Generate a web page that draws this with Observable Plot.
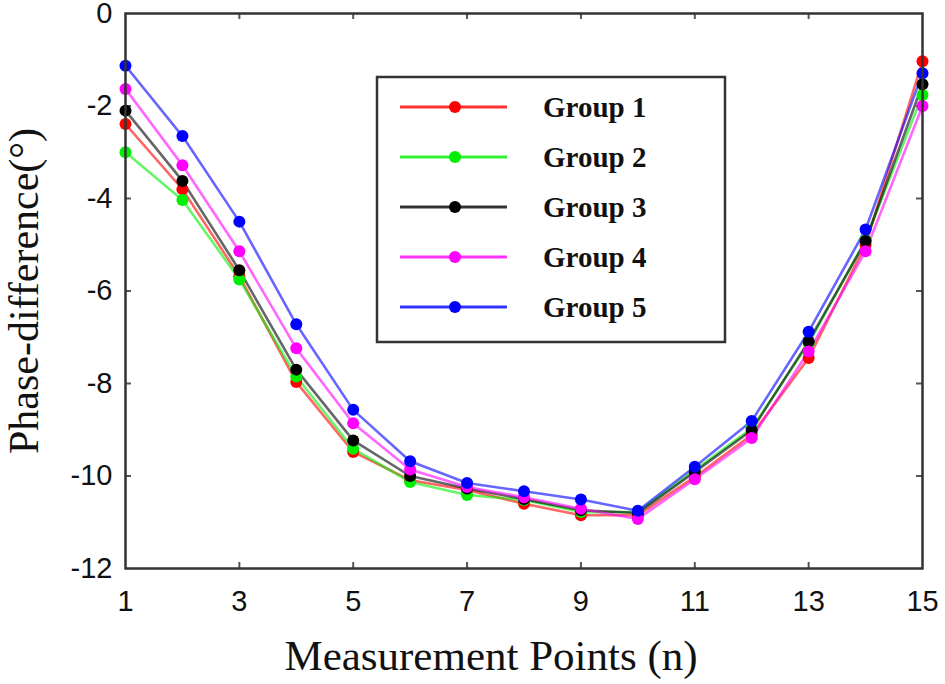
<!DOCTYPE html>
<html>
<head>
<meta charset="utf-8">
<script src="https://cdn.jsdelivr.net/npm/d3@7"></script>
<script src="https://cdn.jsdelivr.net/npm/@observablehq/plot@0.6"></script>
<style>
  body { margin: 0; background: #fff; }
  #chart { position: relative; width: 945px; height: 684px; }
</style>
</head>
<body>
<div id="chart"></div>
<script>
const points = [1, 2, 3, 4, 5, 6, 7, 8, 9, 10, 11, 12, 13, 14, 15];
const groupNames = ["Group 1", "Group 2", "Group 3", "Group 4", "Group 5"];
const groupColors = ["#ff0000", "#00ee00", "#000000", "#ff00ff", "#0000ff"];
const group1 = [-2.39, -3.80, -5.68, -7.97, -9.48, -10.09, -10.30, -10.60, -10.85, -10.85, -10.02, -9.11, -7.45, -5.00, -1.03];
const group2 = [-3.00, -4.03, -5.75, -7.85, -9.41, -10.13, -10.41, -10.52, -10.78, -10.78, -9.87, -8.97, -7.13, -4.90, -1.76];
const group3 = [-2.10, -3.62, -5.55, -7.70, -9.23, -10.00, -10.27, -10.50, -10.74, -10.80, -9.91, -9.01, -7.09, -4.92, -1.53];
const group4 = [-1.63, -3.28, -5.14, -7.24, -8.86, -9.86, -10.24, -10.46, -10.71, -10.93, -10.07, -9.18, -7.31, -5.14, -2.00];
const group5 = [-1.13, -2.65, -4.50, -6.72, -8.57, -9.68, -10.15, -10.33, -10.51, -10.75, -9.80, -8.81, -6.88, -4.67, -1.29];
const xTicks = [1, 3, 5, 7, 9, 11, 13, 15];
const yTicks = [0, -2, -4, -6, -8, -10, -12];
const xLabel = "Measurement Points (n)";
const yLabel = "Phase-difference(°)";

const series = [group1, group2, group3, group4, group5];
const rows = [];
series.forEach((vals, gi) => vals.forEach((v, i) => rows.push({n: points[i], value: v, group: groupNames[gi]})));

const W = 945, H = 684;
const mL = 125, mR = 23, mT = 13, mB = 116;
const frameW = W - mL - mR, frameH = H - mT - mB;
const tickLen = 6;
const innerXTicks = xTicks.slice(1, -1);
const innerYTicks = yTicks.slice(1, -1);
const sans = "Liberation Sans, Arial, sans-serif";
const serif = "Liberation Serif, Times New Roman, serif";

const plot = Plot.plot({
  width: W,
  height: H,
  marginLeft: mL,
  marginRight: mR,
  marginTop: mT,
  marginBottom: mB,
  style: {background: "#fff", overflow: "visible"},
  x: {domain: [1, 15], ticks: xTicks},
  y: {domain: [-12, 0], ticks: yTicks},
  color: {domain: groupNames, range: groupColors},
  marks: [
    Plot.axisX({ticks: xTicks, tickSize: 0, tickPadding: 22, label: null, tickFormat: d => String(d),
      fontSize: 29, fontFamily: sans, fill: "#111"}),
    Plot.axisY({ticks: yTicks, tickSize: 0, tickPadding: 13, label: null, tickFormat: d => String(d),
      fontSize: 29, fontFamily: sans, fill: "#111"}),
    Plot.tickX(innerXTicks, {x: d => d, insetTop: frameH - tickLen, stroke: "#555", strokeWidth: 2}),
    Plot.tickX(innerXTicks, {x: d => d, insetBottom: frameH - tickLen, stroke: "#555", strokeWidth: 2}),
    Plot.tickY(innerYTicks, {y: d => d, insetRight: frameW - tickLen, stroke: "#555", strokeWidth: 2}),
    Plot.tickY(innerYTicks, {y: d => d, insetLeft: frameW - tickLen, stroke: "#555", strokeWidth: 2}),
    Plot.line(rows, {x: "n", y: "value", z: "group", stroke: "group", strokeWidth: 2.6, strokeOpacity: 0.6}),
    Plot.dot(rows, {x: "n", y: "value", fill: "group", r: 6}),
    Plot.frame({stroke: "#333", strokeWidth: 2.5}),
    Plot.text([xLabel], {frameAnchor: "bottom", dy: 88, dx: -33, text: d => d, fontSize: 43,
      fontFamily: serif, fill: "#111", lineAnchor: "middle", textAnchor: "middle"}),
    Plot.text([yLabel], {frameAnchor: "left", dx: -101, rotate: -90, text: d => d, fontSize: 42,
      fontFamily: serif, fill: "#111", lineAnchor: "middle", textAnchor: "middle"})
  ]
});

// Legend drawn inside the plot area
const svg = d3.select(plot);
const lg = svg.append("g").attr("text-anchor", "start");
const box = {x: 377, y: 77, w: 348, h: 265};
lg.append("rect").attr("x", box.x).attr("y", box.y).attr("width", box.w).attr("height", box.h)
  .attr("fill", "#fff").attr("stroke", "#333").attr("stroke-width", 2.5);
groupNames.forEach((name, i) => {
  const yy = 107 + i * 50;
  lg.append("line").attr("x1", 400).attr("x2", 507).attr("y1", yy).attr("y2", yy)
    .attr("stroke", groupColors[i]).attr("stroke-width", 3).attr("stroke-opacity", 0.8);
  lg.append("circle").attr("cx", 455).attr("cy", yy).attr("r", 6).attr("fill", groupColors[i]);
  lg.append("text").attr("x", 543).attr("y", yy).attr("dy", "0.35em")
    .attr("font-family", serif).attr("font-weight", "bold")
    .attr("font-size", 29).attr("fill", "#111").text(name);
});

document.getElementById("chart").appendChild(plot);
</script>
</body>
</html>
